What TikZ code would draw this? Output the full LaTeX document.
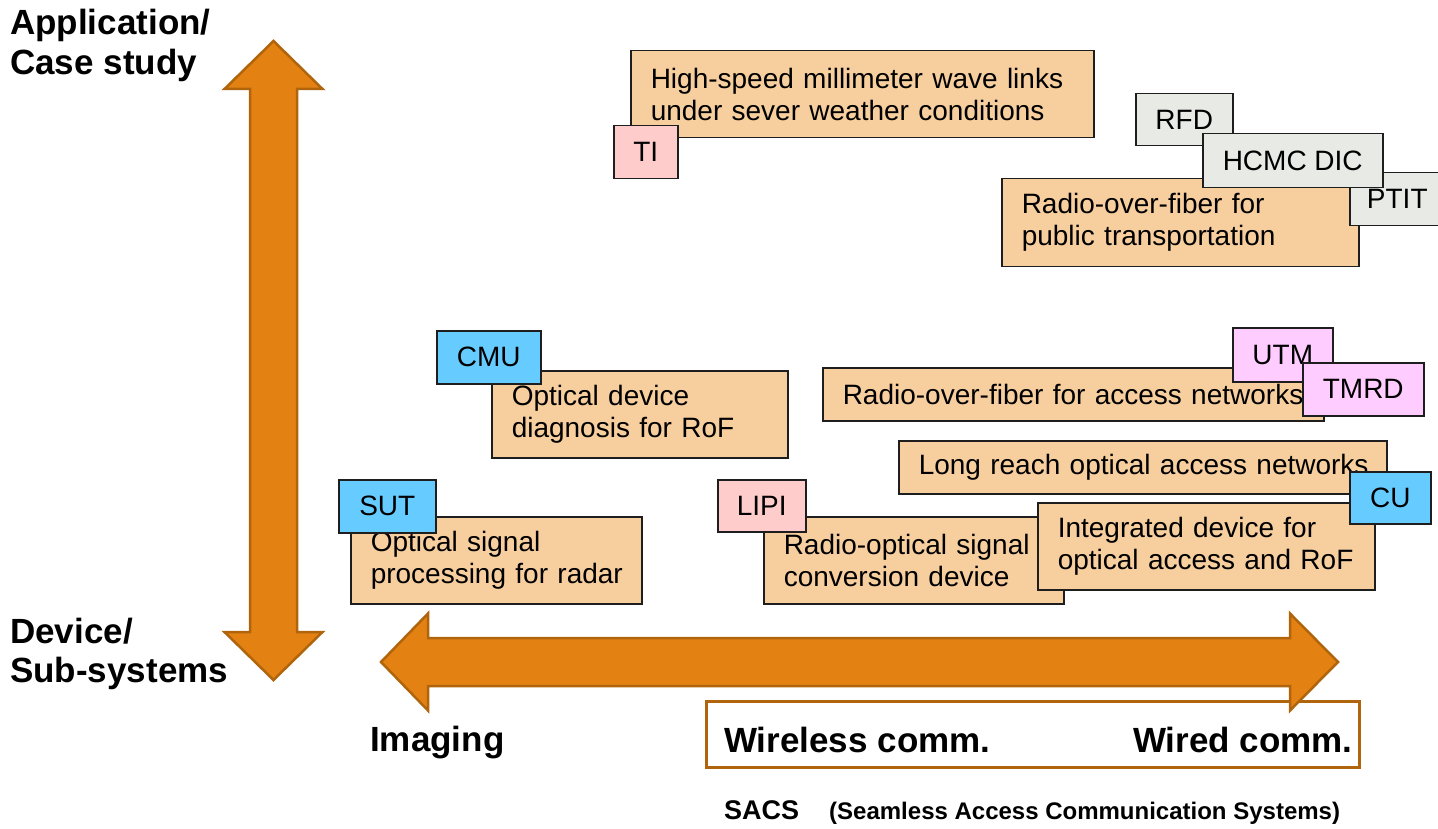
\documentclass[tikz,border=0pt]{standalone}
\usepackage{fontspec}
\setmainfont{Liberation Sans}
\definecolor{orangefill}{RGB}{247,206,158}
\definecolor{boxline}{RGB}{30,30,30}
\definecolor{pinkfill}{RGB}{255,204,204}
\definecolor{magfill}{RGB}{255,204,255}
\definecolor{bluefill}{RGB}{102,204,255}
\definecolor{grayfill}{RGB}{232,234,230}
\definecolor{arrowfill}{RGB}{227,130,18}
\definecolor{arrowline}{RGB}{176,100,12}
\newcommand{\boxfont}{\fontsize{28}{32}\selectfont}
\newcommand{\labfont}{\fontsize{35}{40}\selectfont\bfseries}
\tikzset{
  obox/.style={draw=boxline, line width=1.5pt, fill=orangefill, anchor=north west,
    inner xsep=20pt, inner ysep=0pt, align=left, font=\boxfont},
  tagbox/.style={draw=boxline, line width=1.5pt, anchor=north west, inner sep=0pt,
    align=center, font=\boxfont},
  bigarrow/.style={draw=arrowline, line width=2.5pt, fill=arrowfill, line join=miter},
  lab/.style={anchor=base west, inner sep=0pt, font=\labfont},
}
\begin{document}
\begin{tikzpicture}[x=1pt,y=-1pt]
\useasboundingbox (0,0) rectangle (1438,829);
% vertical double arrow
\draw[bigarrow] (273.5,41) -- (322.5,89) -- (297,89) -- (297,632) -- (322.5,632)
  -- (273.5,680) -- (224.5,632) -- (250,632) -- (250,89) -- (224.5,89) -- cycle;
% frame around comm labels
\node[draw=arrowline, line width=2.5pt, anchor=north west, minimum width=653pt,
  minimum height=66pt, inner sep=0pt] (frame) at (705,700) {};
% horizontal double arrow
\draw[bigarrow] (381,662) -- (428,613.5) -- (428,638) -- (1290,638) -- (1290,613.5)
  -- (1338,662) -- (1290,710.5) -- (1290,686) -- (428,686) -- (428,710.5) -- cycle;
% labels
\node[lab] (app) at (10,35) {Application/};
\node[lab] (case) at (10,75) {Case study};
\node[lab] (dev) at (10,643) {Device/};
\node[lab] (sub) at (10,682) {Sub-systems};
\node[lab] (img) at (370,751) {Imaging};
\node[lab] (wless) at (724,752) {Wireless comm.};
\node[lab] (wired) at (1133,752) {Wired comm.};
\node[anchor=base west, inner sep=0pt, font=\fontsize{27}{30}\selectfont\bfseries] (sacs) at (724,819)
  {SACS\hspace{30pt}\fontsize{24}{26}\selectfont (Seamless Access Communication Systems)};
% top left group
\node[obox, minimum width=463pt, minimum height=87pt, text width=423pt] (hs) at (630,50)
  {\mbox{High-speed millimeter wave links}\\\mbox{under sever weather conditions}};
\node[tagbox, fill=pinkfill, minimum width=64pt, minimum height=53pt] (ti) at (613,125) {TI};
% top right group
\node[obox, minimum width=357pt, minimum height=88pt, text width=317pt] (pub) at (1001,178)
  {\mbox{Radio-over-fiber for}\\\mbox{public transportation}};
\node[tagbox, fill=grayfill, minimum width=95pt, minimum height=53pt] (ptit) at (1349,172) {PTIT};
\node[tagbox, fill=grayfill, minimum width=97pt, minimum height=52pt] (rfd) at (1135,93) {RFD};
\node[tagbox, fill=grayfill, minimum width=180pt, minimum height=54pt] (hcmc) at (1202,133) {HCMC DIC};
% CMU group
\node[obox, minimum width=296pt, minimum height=87pt, text width=256pt] (odd) at (491,370)
  {\mbox{Optical device}\\\mbox{diagnosis for RoF}};
\node[tagbox, fill=bluefill, minimum width=104pt, minimum height=53pt] (cmu) at (436,330) {CMU};
% access networks group
\node[obox, minimum width=501pt, minimum height=53pt, text width=461pt] (acc) at (822,367)
  {\mbox{Radio-over-fiber for access networks}};
\node[tagbox, fill=magfill, minimum width=100pt, minimum height=54pt] (utm) at (1232,327) {UTM};
\node[tagbox, fill=magfill, minimum width=121pt, minimum height=53pt] (tmrd) at (1302,362) {TMRD};
% long reach group
\node[obox, minimum width=488pt, minimum height=53pt, text width=448pt] (lr) at (898,440)
  {\mbox{Long reach optical access networks}};
% SUT group
\node[obox, minimum width=291pt, minimum height=87pt, text width=251pt] (osp) at (350,516)
  {\mbox{Optical signal}\\\mbox{processing for radar}};
\node[tagbox, fill=bluefill, minimum width=97pt, minimum height=53pt] (sut) at (338,479) {SUT};
% LIPI group
\node[obox, minimum width=300pt, minimum height=87pt, text width=260pt] (roc) at (763,516)
  {\mbox{Radio-optical signal}\\\mbox{conversion device}};
\node[tagbox, fill=pinkfill, minimum width=88pt, minimum height=52pt] (lipi) at (717,479) {LIPI};
\node[obox, minimum width=337pt, minimum height=87pt, text width=297pt] (intd) at (1037,502)
  {\mbox{Integrated device for}\\\mbox{optical access and RoF}};
\node[tagbox, fill=bluefill, minimum width=81pt, minimum height=52pt] (cu) at (1349,471) {CU};
\end{tikzpicture}
\end{document}
